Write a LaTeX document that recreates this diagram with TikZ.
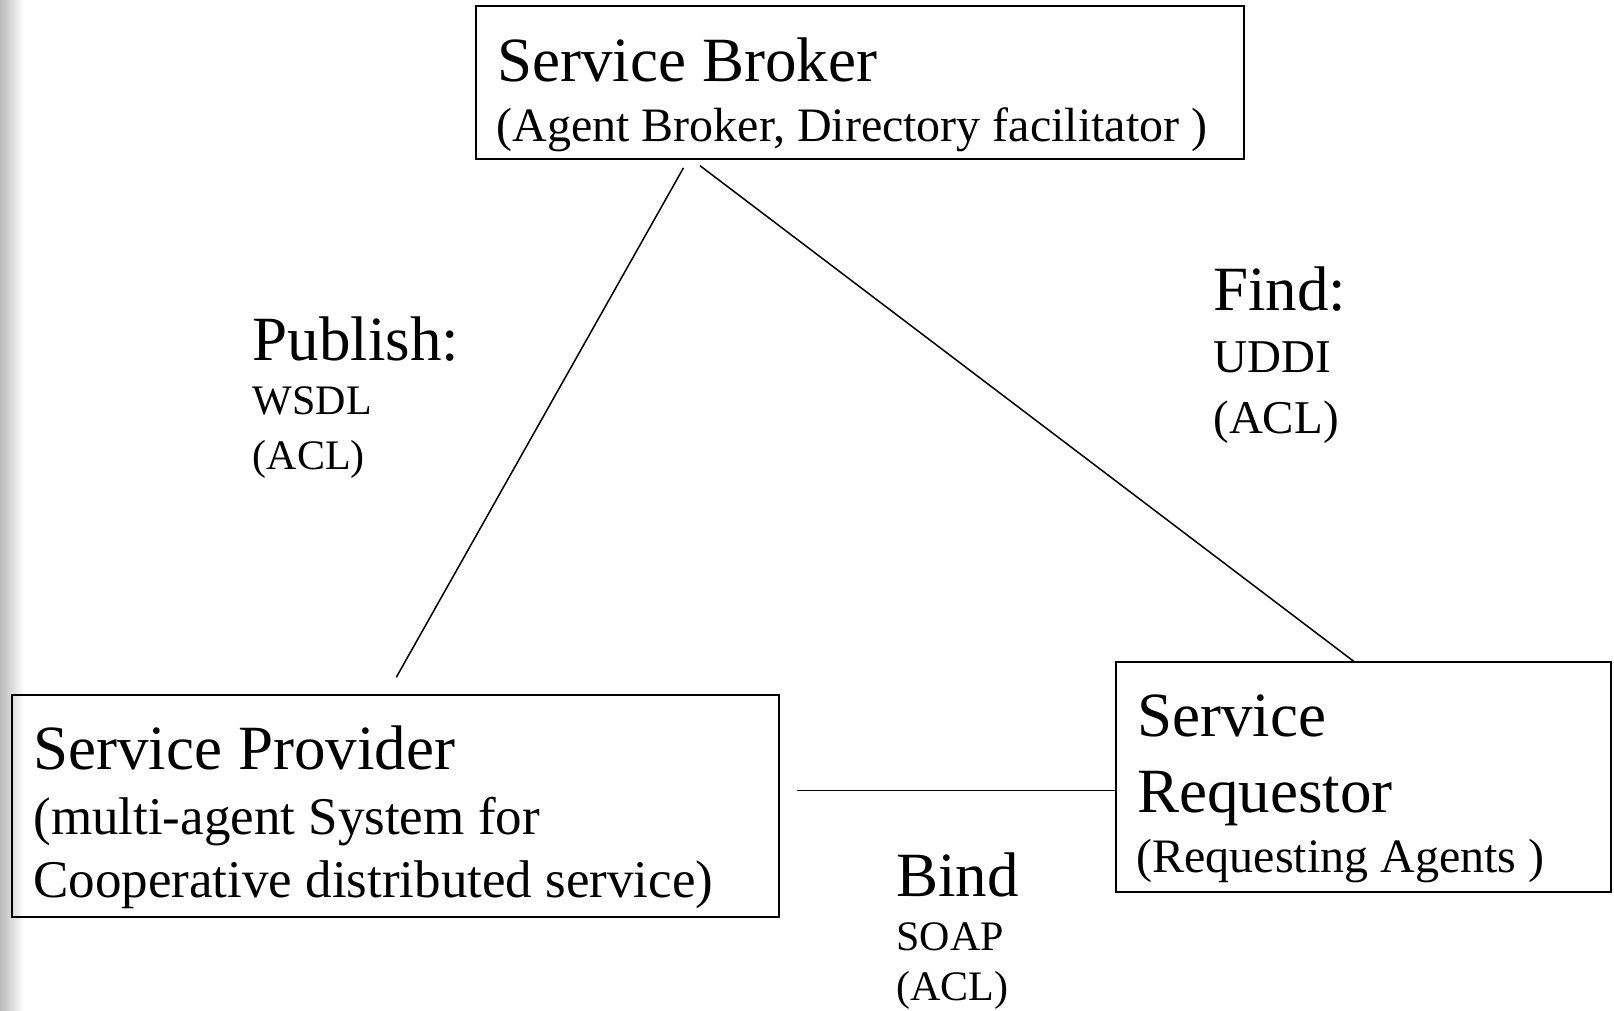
\documentclass[tikz,border=0pt]{standalone}
\usepackage{fontspec}
\setmainfont{Liberation Serif}
\begin{document}
\begin{tikzpicture}[x=0.5pt,y=-0.5pt,
  box/.style={draw, line width=1pt, inner sep=0pt, rectangle},
  txt/.style={anchor=base west, inner sep=0pt},
  big/.style={txt, font=\fontsize{31.5}{36}\selectfont},
  sub/.style={txt, font=\fontsize{24}{28}\selectfont},
  subl/.style={txt, font=\fontsize{26.5}{30}\selectfont},
  lab/.style={txt, font=\fontsize{21}{24}\selectfont},
  labl/.style={txt, font=\fontsize{23.5}{27}\selectfont},
  link/.style={line width=0.75pt}]
\useasboundingbox (0,0) rectangle (1614,1011);
% soft grey edge on the left
\shade[left color=black!27, right color=white] (0,0) rectangle (24,1011);

% boxes
\node[box, minimum width=384pt, minimum height=76.6pt] (broker) at (859.5,82.9) {};
\node[box, minimum width=383.4pt, minimum height=111.1pt] (provider) at (395.8,806) {};
\node[box, minimum width=247.5pt, minimum height=115pt] (requestor) at (1363.5,777) {};

% box texts
\node[big] (brokerT) at (497,82) {Service Broker};
\node[sub] (brokerS) at (496,142) {(Agent Broker, Directory facilitator )};

\node[big] (provT) at (33,769) {Service Provider};
\node[subl] (provS1) at (33,834) {(multi-agent System for};
\node[subl] (provS2) at (33,897.6) {Cooperative distributed service)};

\node[big] (reqT1) at (1137,736) {Service};
\node[big] (reqT2) at (1137,812) {Requestor};
\node[sub] (reqS) at (1136,872) {(Requesting Agents )};

% connector labels
\node[big] (pub) at (252.5,360) {Publish:};
\node[lab] (pubA) at (252.5,415) {WSDL};
\node[lab] (pubB) at (252.5,469) {(ACL)};

\node[big] (find) at (1213,311) {Find:};
\node[labl] (findA) at (1213,372) {UDDI};
\node[labl] (findB) at (1213,433) {(ACL)};

\node[big] (bind) at (896,896) {Bind};
\node[lab] (bindA) at (896,950) {SOAP};
\node[lab] (bindB) at (896,1000) {(ACL)};

% connectors
\coordinate (pubStart) at (683.5,167.8);
\coordinate (pubEnd) at (396.3,677.3);
\coordinate (findStart) at (700,165.7);
\coordinate (findEnd) at (1354.6,662);
\coordinate (bindStart) at (796.7,790.5);
\draw[link] (pubStart) -- (pubEnd);
\draw[link] (findStart) -- (findEnd);
\draw[link] (bindStart) -- (bindStart -| requestor.west);
\end{tikzpicture}
\end{document}
